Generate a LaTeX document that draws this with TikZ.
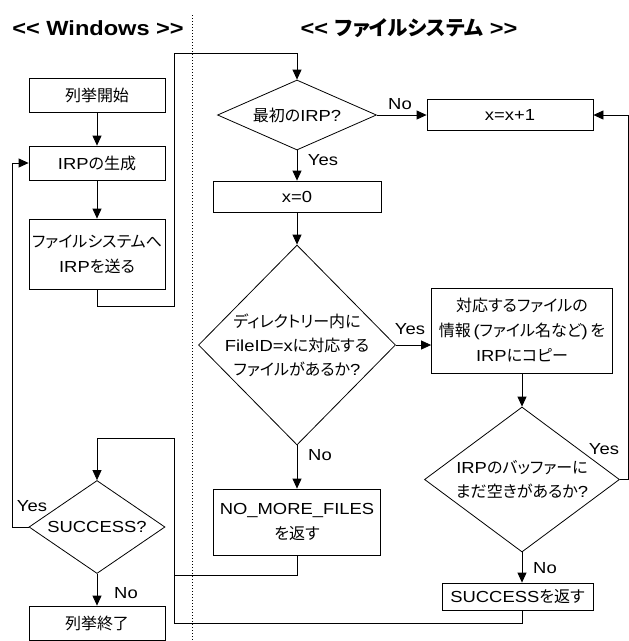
\documentclass[tikz,border=0pt]{standalone}
\usepackage{fontspec}
\setmainfont{Liberation Sans}[FakeStretch=1.15]
\newfontfamily\jp{Noto Sans CJK JP}[Scale=1.0,RawFeature=+palt]
\usetikzlibrary{shapes.geometric,arrows.meta}
\begin{document}
\begin{tikzpicture}[x=1pt,y=-1pt,line width=0.8pt,
  box/.style={draw,rectangle,inner sep=0pt,align=center,font=\fontsize{16}{25}\selectfont},
  dia/.style={draw,diamond,inner sep=0pt,aspect=1},
  dtxt/.style={inner sep=0pt,align=center,font=\fontsize{16}{24}\selectfont},
  arr/.style={-{Triangle[length=10pt,width=9pt]}},
  lbl/.style={font=\fontsize{16}{20}\selectfont,inner sep=0pt},
  hdr/.style={font=\bfseries\fontsize{20.5}{22}\selectfont,inner sep=0pt},
  sep/.style={line width=1pt,dash pattern=on 1pt off 2pt}]
\useasboundingbox (0,0) rectangle (629,641);
% headers
\node[hdr] (hw) at (98,28) {<{}< Windows >{}>};
\node[hdr] (hf) at (409,28) {<{}< {\jp ファイルシステム} >{}>};
\coordinate (dtop) at (192,15);
\coordinate (dbot) at (192,641);
\draw[sep] (dtop) -- (dbot);
% left column
\node[box,minimum width=136pt,minimum height=34pt] (start) at (97,95) {{\jp 列挙開始}};
\node[box,minimum width=136pt,minimum height=34pt] (gen) at (97,163) {IRP{\jp の生成}};
\node[box,minimum width=136pt,minimum height=70pt] (send) at (97,254) {{\jp ファイルシステムへ}\\IRP{\jp を送る}};
\node[dia,minimum width=136pt,minimum height=93pt] (succ) at (97,527) {};
\node[dtxt] (succt) at (succ.center) {SUCCESS?};
\node[box,minimum width=136pt,minimum height=34pt] (end) at (97,623) {{\jp 列挙終了}};
% middle column
\node[dia,minimum width=159pt,minimum height=70pt] (first) at (297,115) {};
\node[dtxt] (firstt) at (first.center) {{\jp 最初の}IRP?};
\node[box,minimum width=166pt,minimum height=31pt] (inc) at (510,115) {x=x+1};
\node[box,minimum width=168pt,minimum height=31pt] (xz) at (297,196.5) {x=0};
\node[dia,minimum width=197pt,minimum height=200pt] (big) at (297,345) {};
\node[dtxt] (bigt) at (big.center) {{\jp ディレクトリー内に}\\FileID=x{\jp に対応する}\\{\jp ファイルがあるか}?};
\node[box,minimum width=167pt,minimum height=66pt] (nomore) at (297,522) {NO\_MORE\_FILES\\{\jp を返す}};
% right column
\node[box,minimum width=181pt,minimum height=85pt] (copy) at (522,330.5) {{\jp 対応するファイルの}\\{\jp 情報}\,({\jp ファイル名など})\,{\jp を}\\IRP{\jp にコピー}};
\node[dia,minimum width=195pt,minimum height=145pt] (buf) at (522,479.5) {};
\node[dtxt] (buft) at (buf.center) {IRP{\jp のバッファーに}\\{\jp まだ空きがあるか}?};
\node[box,minimum width=151pt,minimum height=27pt] (succret) at (517.5,596.5) {SUCCESS{\jp を返す}};
% routing coordinates
\coordinate (lch) at (174,0);
\coordinate (rch) at (628,0);
\coordinate (lsp) at (12,0);
% connectors
\draw[arr] (start) -- (gen);
\draw[arr] (gen) -- (send);
\draw[arr] (send.south) -- (97,306) -| (lch |- 0,53) -| (first.north);
\draw[arr] (first.east) -- (first.east -| inc.west);
\draw[arr] (first.south) -- (xz.north);
\draw[arr] (xz.south) -- (big.north);
\draw[arr] (big.east) -- (big.east -| copy.west);
\draw[arr] (copy.south) -- (buf.north);
\draw[arr] (buf.east) -- (buf.east -| rch) |- (inc.east);
\draw[arr] (buf.south) -- (buf.south |- succret.north);
\draw[arr] (big.south) -- (nomore.north);
\draw (nomore.south) -- (297,575) -- (lch |- 0,575);
\draw[arr] (buf.south |- succret.south) -- (522,623) -| (lch |- 0,438) -| (succ.north);
\draw[arr] (succ.west) -- (succ.west -| lsp) |- (gen.west);
\draw[arr] (succ.south) -- (end.north);
% labels
\node[lbl] (l1) at (400,104) {No};
\node[lbl] (l2) at (323,160) {Yes};
\node[lbl] (l3) at (410,329) {Yes};
\node[lbl] (l4) at (320,455) {No};
\node[lbl] (l5) at (604,449) {Yes};
\node[lbl] (l6) at (545,568) {No};
\node[lbl] (l7) at (32,506) {Yes};
\node[lbl] (l8) at (126,593) {No};
\end{tikzpicture}
\end{document}
